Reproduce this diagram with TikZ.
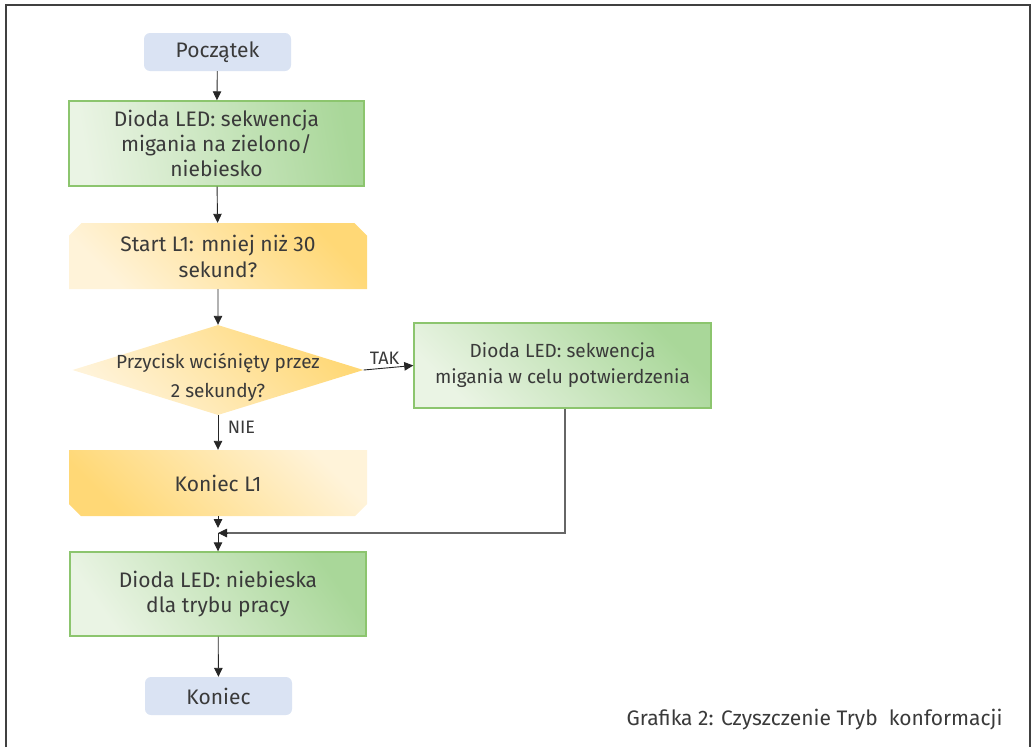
\documentclass[tikz,border=0pt]{standalone}
\usepackage{fontspec}
\setmainfont{Fira Sans}
\usetikzlibrary{arrows.meta,shapes.geometric,shapes.misc}
\definecolor{txt}{HTML}{3A3A3A}
\definecolor{bluebox}{HTML}{DAE3F3}
\definecolor{gborder}{HTML}{8CC56E}
\definecolor{glight}{HTML}{EAF4E4}
\definecolor{gdark}{HTML}{A9D799}
\definecolor{ylight}{HTML}{FFF3D9}
\definecolor{ydark}{HTML}{FFD876}
\tikzset{
  every node/.style={text=txt},
  term/.style={rounded corners=6pt, fill=bluebox, minimum width=147pt, minimum height=38pt, inner sep=0pt, font=\fontsize{21}{25}\selectfont},
  gbox/.style={draw=gborder, line width=1.4pt, left color=glight, right color=gdark, minimum height=85pt, inner sep=0pt, align=center, font=\fontsize{21}{25}\selectfont},
  ybox/.style={chamfered rectangle, chamfered rectangle xsep=9pt, chamfered rectangle angle=45, left color=ylight, right color=ydark, minimum width=298pt, minimum height=66pt, inner sep=0pt, align=center, font=\fontsize{21}{26}\selectfont},
  arr/.style={draw=black!85, line width=0.9pt, -{Triangle[width=8.5pt,length=9pt]}},
  plain/.style={draw=black!60, line width=1.5pt},
  lbl/.style={font=\fontsize{18}{20}\selectfont},
}
\begin{document}
\begin{tikzpicture}[x=1pt,y=-1pt]
\useasboundingbox (0,0) rectangle (1035,747);
% frame
\draw[draw=black!75, line width=1.6pt] (6,747) -- (6,5) -- (1030,5) -- (1030,747);

\node[term] (start) at (217.5,52) {Początek};
\node[gbox, minimum width=295pt, shading angle=100] (g1) at (216.5,143.5) {Dioda LED: sekwencja\\migania na zielono/\\niebiesko};
\node[ybox, chamfered rectangle corners={north west,north east}, shading angle=135] (s1) at (218,256) {Start L1: mniej niż 30\\sekund?};
\node[diamond, aspect=3.2, minimum width=291pt, minimum height=90pt, inner sep=0pt, left color=ylight, right color=ydark, shading angle=135] (d) at (218,370) {};
\node[align=center, font=\fontsize{19}{29}\selectfont] (dt) at (218,377) {Przycisk wciśnięty przez\\2 sekundy?};
\node[gbox, minimum width=297pt, shading angle=135, font=\fontsize{19}{26}\selectfont] (g2) at (562.5,365.5) {Dioda LED: sekwencja\\migania w celu potwierdzenia};
\node[ybox, chamfered rectangle corners={south west,south east}, shading angle=-45] (k1) at (218,483) {Koniec L1};
\coordinate (j) at (218,533);
\node[gbox, minimum width=296pt, minimum height=84pt, shading angle=125] (g3) at (218,594) {Dioda LED: niebieska\\dla trybu pracy};
\node[term] (end) at (218.5,696) {Koniec};

\draw[arr] (start) -- (g1);
\draw[arr] (g1) -- (s1);
\draw[arr] (s1) -- (d.north);
\draw[arr] (d.east) -- node[lbl, above, pos=0.42] {TAK} (g2.west);
\draw[arr] (d.south) -- node[lbl, right, pos=0.35, xshift=6pt] {NIE} (k1.north);
\draw[arr, shorten >=5pt] (k1.south) -- (j);
\draw[plain] (g2.south -| 565,0) |- ([xshift=8pt]j);
\draw[arr] ([xshift=9pt]j) -- (j);
\draw[arr] (j) -- (g3.north);
\draw[arr] (g3) -- (end);

\node[anchor=east, font=\fontsize{21}{24}\selectfont] (cap) at (1006,720) {Grafika 2: Czyszczenie Tryb\ \ konformacji};
\end{tikzpicture}
\end{document}
